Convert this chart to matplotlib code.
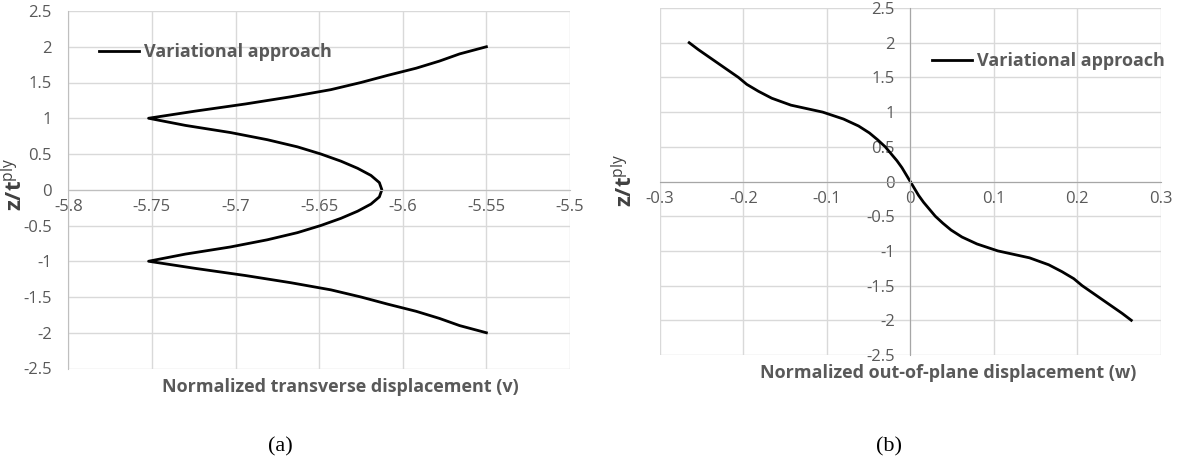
import matplotlib
matplotlib.use("Agg")
import matplotlib.pyplot as plt

# DATA
z = [2.0, 1.9, 1.8, 1.7, 1.6, 1.5, 1.4, 1.3, 1.2, 1.1, 1.0,
     0.9, 0.8, 0.7, 0.6, 0.5, 0.4, 0.3, 0.2, 0.1, 0.0,
     -0.1, -0.2, -0.3, -0.4, -0.5, -0.6, -0.7, -0.8, -0.9, -1.0,
     -1.1, -1.2, -1.3, -1.4, -1.5, -1.6, -1.7, -1.8, -1.9, -2.0]

v_disp = [-5.550, -5.566, -5.578, -5.592, -5.609, -5.625, -5.643, -5.667, -5.694, -5.724, -5.752,
          -5.730, -5.703, -5.681, -5.663, -5.649, -5.637, -5.627, -5.619, -5.614, -5.6125,
          -5.614, -5.619, -5.627, -5.637, -5.649, -5.663, -5.681, -5.703, -5.730, -5.752,
          -5.724, -5.694, -5.667, -5.643, -5.625, -5.609, -5.592, -5.578, -5.566, -5.550]

w_disp = [-0.265, -0.254, -0.242, -0.230, -0.218, -0.206, -0.196, -0.182, -0.166, -0.143, -0.105,
          -0.080, -0.062, -0.049, -0.039, -0.030, -0.023, -0.016, -0.010, -0.005, 0.000,
          0.005, 0.010, 0.016, 0.023, 0.030, 0.039, 0.049, 0.062, 0.080, 0.105,
          0.143, 0.166, 0.182, 0.196, 0.206, 0.218, 0.230, 0.242, 0.254, 0.265]

y_ticks = [2.5, 2, 1.5, 1, 0.5, 0, -0.5, -1, -1.5, -2, -2.5]
y_labels = ["2.5", "2", "1.5", "1", "0.5", "0", "-0.5", "-1", "-1.5", "-2", "-2.5"]
v_ticks = [-5.8, -5.75, -5.7, -5.65, -5.6, -5.55, -5.5]
v_labels = ["-5.8", "-5.75", "-5.7", "-5.65", "-5.6", "-5.55", "-5.5"]
w_ticks = [-0.3, -0.2, -0.1, 0, 0.1, 0.2, 0.3]
w_labels = ["-0.3", "-0.2", "-0.1", "0", "0.1", "0.2", "0.3"]

series_name = "Variational approach"

plt.rcParams["font.family"] = ["Open Sans", "DejaVu Sans"]
plt.rcParams["mathtext.fontset"] = "custom"
plt.rcParams["mathtext.rm"] = "Open Sans"
plt.rcParams["mathtext.bf"] = "Open Sans:bold"

W, H = 1177, 466
GRID = "#d9d9d9"
AXC = "#bfbfbf"
TXT = "#595959"

fig = plt.figure(figsize=(W / 100, H / 100), dpi=100)


def px_axes(x0, y0, x1, y1):
    return fig.add_axes([x0 / W, 1 - y1 / H, (x1 - x0) / W, (y1 - y0) / H])


def style(ax, xt, xl, ypad):
    ax.set_yticks(y_ticks)
    ax.set_yticklabels(y_labels)
    ax.set_xticks(xt)
    ax.set_xticklabels(xl)
    ax.set_ylim(-2.5, 2.5)
    ax.set_xlim(xt[0], xt[-1])
    ax.grid(True, color=GRID, linewidth=1.0)
    ax.set_axisbelow(True)
    for s in ["top", "right"]:
        ax.spines[s].set_visible(False)
    ax.spines["bottom"].set_position(("data", 0))
    ax.spines["bottom"].set_color(AXC)
    ax.spines["left"].set_color(AXC)
    ax.tick_params(axis="both", length=0, labelsize=12, labelcolor=TXT)
    ax.tick_params(axis="y", pad=ypad)
    ax.tick_params(axis="x", pad=7)


# (a) transverse displacement
ax1 = px_axes(68.3, 11, 570, 368.5)
style(ax1, v_ticks, v_labels, 12)
ax1.plot(v_disp, z, color="black", linewidth=2.0, label=series_name, solid_joinstyle="round")
ax1.legend(loc="center left", bbox_to_anchor=(99 / W, 1 - 52 / H), bbox_transform=fig.transFigure,
           frameon=False, prop={"weight": "bold", "size": 13}, labelcolor=TXT,
           handlelength=2.2, handletextpad=0.3, borderpad=0, borderaxespad=0)
fig.text(340 / W, 1 - 387 / H, "Normalized transverse displacement (v)", ha="center", va="center",
         fontsize=13, fontweight="bold", color=TXT)
fig.text(15 / W, 1 - 184 / H, r"$\mathbf{z/t}^{\mathrm{ply}}$", ha="center", va="center",
         rotation=90, fontsize=16, color="#404040")
fig.text(280 / W, 1 - 447 / H, "(a)", ha="center", va="center", fontsize=16,
         family="Liberation Serif", color="black")

# (b) out-of-plane displacement
ax2 = px_axes(660, 8, 1160.5, 355)
style(ax2, w_ticks, w_labels, 11)
ax2.spines["left"].set_position(("data", 0))
ax2.spines["left"].set_color("#a6a6a6")
ax2.spines["bottom"].set_color("#a6a6a6")
ax2.plot(w_disp, z, color="black", linewidth=2.0, label=series_name, solid_joinstyle="round")
ax2.legend(loc="center left", bbox_to_anchor=(932 / W, 1 - 61 / H), bbox_transform=fig.transFigure,
           frameon=False, prop={"weight": "bold", "size": 13}, labelcolor=TXT,
           handlelength=2.2, handletextpad=0.3, borderpad=0, borderaxespad=0)
fig.text(948 / W, 1 - 373 / H, "Normalized out-of-plane displacement (w)", ha="center", va="center",
         fontsize=13, fontweight="bold", color=TXT)
fig.text(625 / W, 1 - 180 / H, r"$\mathbf{z/t}^{\mathrm{ply}}$", ha="center", va="center",
         rotation=90, fontsize=16, color="#404040")
fig.text(889 / W, 1 - 447 / H, "(b)", ha="center", va="center", fontsize=16,
         family="Liberation Serif", color="black")

fig.savefig("out.png", dpi=100)
